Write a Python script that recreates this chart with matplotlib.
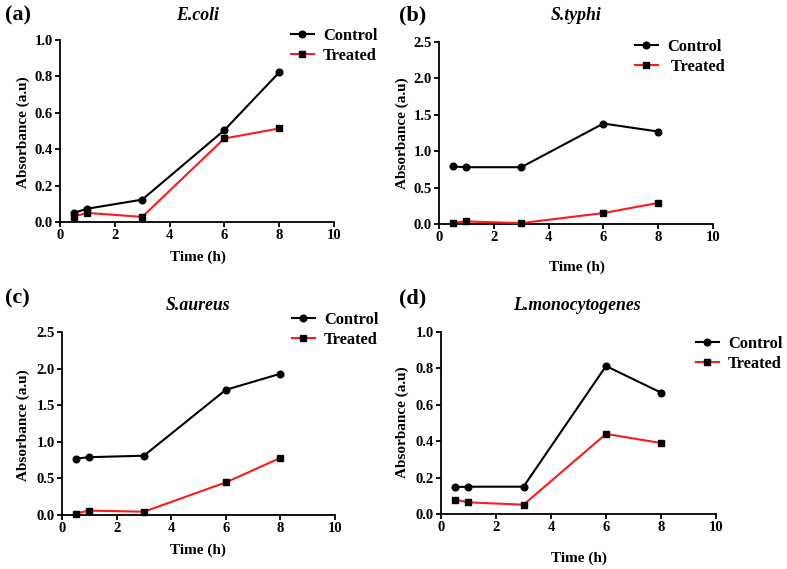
import matplotlib
matplotlib.use("Agg")
import matplotlib.pyplot as plt

# データ
time_h = [0.5, 1, 3, 6, 8]

ecoli_control = [0.05, 0.073, 0.123, 0.505, 0.822]
ecoli_treated = [0.03, 0.05, 0.028, 0.459, 0.514]

styphi_control = [0.79, 0.78, 0.78, 1.38, 1.27]
styphi_treated = [0.02, 0.035, 0.012, 0.15, 0.29]

saureus_control = [0.77, 0.79, 0.81, 1.71, 1.93]
saureus_treated = [0.02, 0.06, 0.045, 0.445, 0.78]

lmono_control = [0.148, 0.15, 0.15, 0.813, 0.667]
lmono_treated = [0.079, 0.064, 0.051, 0.44, 0.39]

titles = ["E.coli", "S.typhi", "S.aureus", "L.monocytogenes"]
panel_tags = ["(a)", "(b)", "(c)", "(d)"]
ymax = [1.0, 2.5, 2.5, 1.0]
ystep = [0.2, 0.5, 0.5, 0.2]
legend_labels = [["Control", "Treated"], ["Control", " Treated"],
                 ["Control", "Treated"], ["Control", "Treated"]]

W, H = 787, 569
plt.rcParams['font.family'] = ['Liberation Serif', 'DejaVu Serif']
plt.rcParams['font.weight'] = 'bold'

fig = plt.figure(figsize=(W / 100, H / 100), dpi=100)


def fx(px):
    return px / W


def fy(py):
    return 1 - py / H


# axes box in pixels: left, right, top, bottom
boxes = [(60, 334, 40, 222), (439, 713, 42, 224),
         (62, 335, 332, 515), (441, 716, 332, 514)]
title_pos = [(198, 15), (576, 15), (198, 305), (577, 305)]
tag_pos = [(5, 15), (399, 15), (5, 298), (399, 298)]
xlabel_pos = [(198, 257), (577, 267), (198, 550), (579, 558)]
ylabel_pos = [(23, 132), (402, 133), (23, 425), (402, 422)]
legend_pos = [(291, 28), (635, 39), (292, 312), (696, 336)]

data = [(ecoli_control, ecoli_treated), (styphi_control, styphi_treated),
        (saureus_control, saureus_treated), (lmono_control, lmono_treated)]

for i in range(4):
    l, r, t, b = boxes[i]
    ax = fig.add_axes([fx(l), fy(b), fx(r) - fx(l), (b - t) / H])
    ctrl, trt = data[i]
    ax.plot(time_h, ctrl, color='black', marker='o', markersize=4.8,
            linewidth=1.5, label=legend_labels[i][0], clip_on=False, zorder=3)
    ax.plot(time_h, trt, color='#ff1a1a', marker='s', markersize=4.8,
            markerfacecolor='black', markeredgecolor='black',
            linewidth=1.5, label=legend_labels[i][1], clip_on=False, zorder=3)
    ax.set_xlim(0, 10)
    ax.set_ylim(0, ymax[i])
    ax.set_xticks(range(0, 11, 2))
    n = int(round(ymax[i] / ystep[i]))
    ax.set_yticks([k * ystep[i] for k in range(n + 1)])
    ax.yaxis.set_major_formatter(plt.FormatStrFormatter('%.1f'))
    for s in ['top', 'right']:
        ax.spines[s].set_visible(False)
    for s in ['left', 'bottom']:
        ax.spines[s].set_linewidth(1.3)
    ax.tick_params(direction='out', length=3.6, width=1.3, labelsize=10.5,
                   pad=1.5)
    for lab in ax.get_xticklabels() + ax.get_yticklabels():
        lab.set_fontweight('bold')

    lx, ly = legend_pos[i]
    ax.legend(loc='upper left', bbox_to_anchor=(fx(lx), fy(ly)),
              bbox_transform=fig.transFigure, frameon=False,
              prop={'size': 11.8, 'weight': 'bold'}, handlelength=1.4,
              handletextpad=0.55, labelspacing=0.25, borderpad=0,
              borderaxespad=0)

    tx, ty = title_pos[i]
    fig.text(fx(tx), fy(ty), titles[i], ha='center', va='center',
             fontsize=12.8, fontweight='bold', fontstyle='italic')
    px, py = tag_pos[i]
    fig.text(fx(px), fy(py), panel_tags[i], ha='left', va='center',
             fontsize=16, fontweight='bold')
    xx, xy = xlabel_pos[i]
    fig.text(fx(xx), fy(xy), "Time (h)", ha='center', va='center',
             fontsize=11, fontweight='bold')
    yx, yy = ylabel_pos[i]
    fig.text(fx(yx), fy(yy), "Absorbance (a.u)", ha='center', va='center',
             rotation=90, fontsize=11, fontweight='bold')

fig.savefig("out.png", dpi=100)
